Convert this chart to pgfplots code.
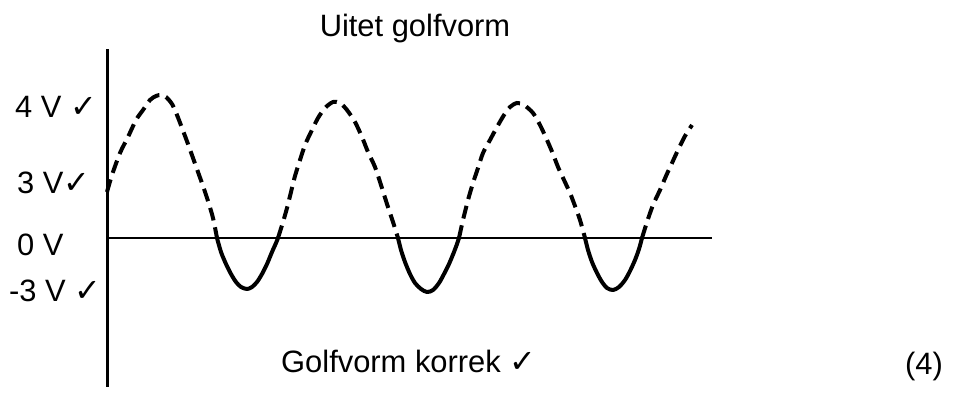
\documentclass[border=0pt]{standalone}
\usepackage{fontspec}
\setmainfont{Liberation Sans}
\newfontfamily\dv{DejaVu Sans}
\usepackage{pgfplots}
\pgfplotsset{compat=1.18}
\newcommand{\chk}{{\dv\fontsize{32}{32}\selectfont ✓}}
\newcommand{\tf}{\fontsize{31}{32}\selectfont}
\begin{document}
\begin{tikzpicture}
\begin{axis}[
  at={(0,0)}, anchor=south west,
  width=971bp, height=393bp, scale only axis,
  xmin=0, xmax=971, ymin=0, ymax=393, y dir=reverse,
  axis lines=none, ticks=none, clip=false,
]
% axes
\addplot[black, line width=2.6bp] coordinates {(107.5,49) (107.5,387)};
\addplot[black, line width=2.6bp] coordinates {(107,238) (712,238)};
% dashed arcs (above 0 V), solid dips (below 0 V)
\pgfplotsset{dsh/.style={black, line width=4bp, smooth, dash pattern=on 13bp off 7bp}}
\pgfplotsset{sld/.style={black, line width=4bp, smooth, line join=round, line cap=round}}
\addplot[dsh] coordinates {(107,192) (112,175) (120,153) (128,137) (136,120) (143,110) (150,100) (156,96) (161,95) (166,97) (172,104) (177,115) (182,128) (188,144) (193,158) (198,172) (203,186) (208,201) (213,218) (217,238)};
\addplot[sld] coordinates {(217,238) (221,252) (226,264) (231,274) (236,282) (241,287) (247,289) (252,287) (257,282) (262,274) (267,264) (272,252) (276,243) (278,238)};
\addplot[dsh] coordinates {(278,238) (283,222) (287,208) (291,192) (295,176) (300,160) (305,145) (311,132) (318,118) (325,108) (333,102) (340,103) (347,110) (355,122) (362,137) (368,152) (375,167) (381,185) (387,204) (393,222) (398,238)};
\addplot[sld] coordinates {(398,238) (401,250) (405,262) (410,274) (415,283) (421,289) (427,292) (433,290) (439,283) (444,274) (449,264) (454,252) (457,244) (459,238)};
\addplot[dsh] coordinates {(459,238) (463,220) (468,200) (473,183) (478,168) (483,153) (490,140) (497,127) (504,115) (510,107) (517,103) (524,105) (533,113) (540,125) (547,140) (553,154) (558,167) (564,180) (570,193) (575,206) (580,220) (585,238)};
\addplot[sld] coordinates {(585,238) (588,250) (592,262) (597,273) (602,282) (607,288) (613,290) (619,287) (625,280) (630,271) (635,260) (639,249) (642,238)};
\addplot[dsh] coordinates {(642,238) (647,222) (653,205) (660,190) (666,176) (672,163) (678,150) (685,136) (692,125)};
% texts
\node[inner sep=0pt, anchor=base] at (axis cs:415,36) {\tf Uitet golfvorm};
\node[inner sep=0pt, anchor=base west] at (axis cs:15,117) {\tf 4 V \chk};
\node[inner sep=0pt, anchor=base west] at (axis cs:17,193) {\tf 3 V\chk};
\node[inner sep=0pt, anchor=base west] at (axis cs:17,255) {\tf 0 V};
\node[inner sep=0pt, anchor=base west] at (axis cs:9,301) {\tf -3 V \chk};
\node[inner sep=0pt, anchor=base west] at (axis cs:281,372) {\tf Golfvorm korrek \chk};
\node[inner sep=0pt, anchor=base west] at (axis cs:905,374) {\tf (4)};
\end{axis}
\pgfresetboundingbox
\path (0,0) rectangle (971bp,393bp);
\end{tikzpicture}
\end{document}
